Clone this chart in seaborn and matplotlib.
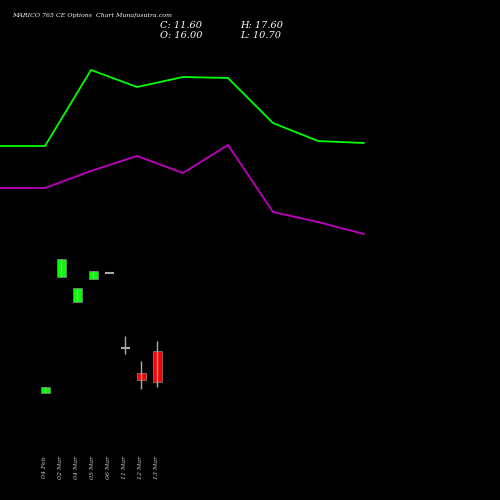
import numpy as np
import pandas as pd
import matplotlib.pyplot as plt
import seaborn as sns

sns.set_style("dark")
plt.rcParams["font.family"] = ["DejaVu Serif"]

dates = ["04 Feb", "02 Mar", "04 Mar", "05 Mar", "06 Mar", "11 Mar", "12 Mar", "13 Mar"]
opens = [107, 223, 198, 221, 227, 152, 127, 149]
closes = [113, 241, 212, 229, 227, 152, 120, 118]
highs = [113, 241, 212, 229, 227, 164, 139, 159]
lows = [107, 223, 198, 221, 227, 146, 111, 113]

line_x = [0, 45, 91, 137, 183, 228, 273, 318, 364]
green_line = [354, 354, 430, 413, 423, 422, 377, 359, 357]
magenta_line = [312, 312, 329, 344, 327, 355, 288, 278, 266]

candle_x = [45, 61, 77, 93, 109, 125, 141, 157]

fig = plt.figure(figsize=(5, 5), dpi=100, facecolor="black")
ax = fig.add_axes([0, 0, 1, 1])
ax.set_facecolor("black")
ax.set_xlim(0, 500)
ax.set_ylim(0, 500)
ax.axis("off")

sns.lineplot(x=line_x, y=green_line, color="#00ff00", lw=1.3, ax=ax)
sns.lineplot(x=line_x, y=magenta_line, color="#c000c0", lw=1.3, ax=ax)

for x, o, c, h, l in zip(candle_x, opens, closes, highs, lows):
    col = "#00ff00" if c >= o else "#ff0000"
    ax.vlines(x, l, h, color="#aaaaaa", lw=1)
    if c == o:
        ax.hlines(o, x - 4.5, x + 4.5, color="#aaaaaa", lw=1.5)
    else:
        ax.bar(x, abs(c - o), bottom=min(o, c), width=9, color=col, edgecolor="#888888", lw=0.5)

for x, d in zip(candle_x, dates):
    ax.text(x, 33, d, rotation=90, color="#cccccc", fontsize=4.5, ha="center", va="center", style="italic")

fig.text(0.025, 0.966, "MARICO 765 CE Options  Chart Munafasutra.com", color="white", fontsize=4.5, style="italic")
fig.text(0.32, 0.925, "C: 11.60\nO: 16.00", color="white", fontsize=7, style="italic", linespacing=1.1)
fig.text(0.48, 0.925, "H: 17.60\nL: 10.70", color="white", fontsize=7, style="italic", linespacing=1.1)

fig.savefig("out.png", facecolor="black")
